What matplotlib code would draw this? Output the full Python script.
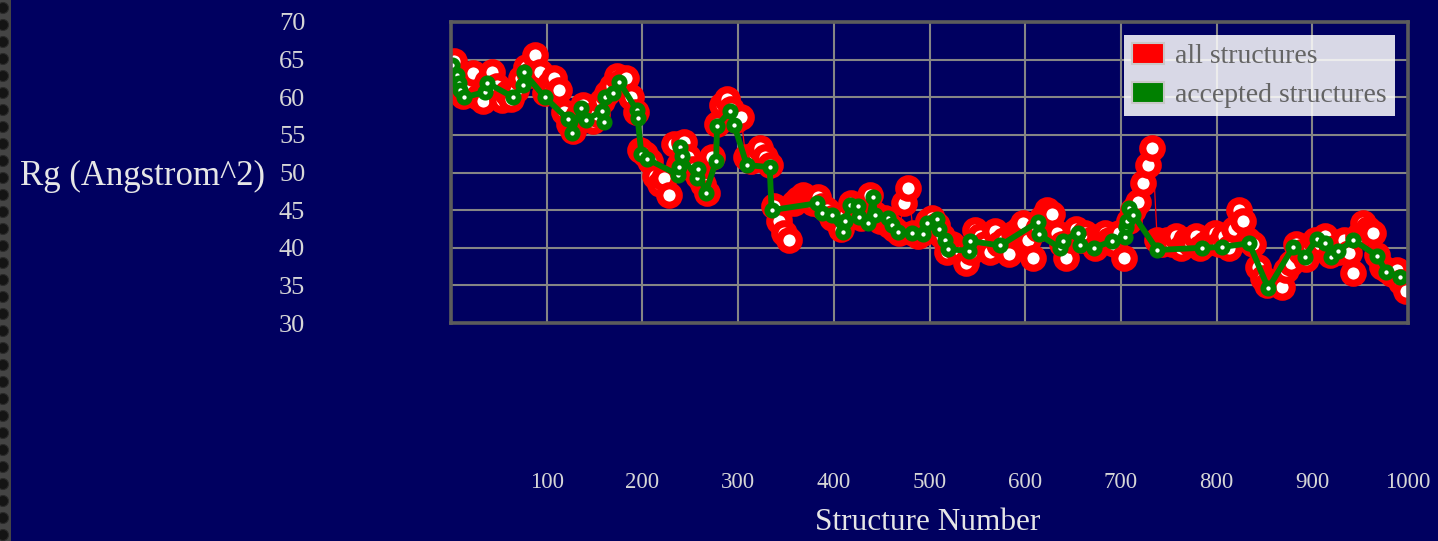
import numpy as np
import matplotlib
matplotlib.use("Agg")
import matplotlib.pyplot as plt
from matplotlib.patches import Patch, Rectangle, Circle

# ---------------- data ----------------
# all structures (sampled every 5 structure numbers, starting at 3)
red_x = np.arange(3, 1000, 5)
red_y = [
    64.8, 62.5, 60.2, 61.0, 63.2, 60.0, 59.5, 62.0, 63.4, 61.5,
    59.6, 60.5, 59.8, 61.0, 62.5, 64.0, 63.0, 65.6, 63.4, 60.5,
    61.8, 62.5, 61.0, 58.0, 56.5, 55.5, 57.5, 59.0, 57.5, 56.8,
    57.8, 59.5, 60.5, 61.5, 62.8, 62.0, 62.5, 60.0, 58.0, 53.0,
    52.5, 51.5, 49.5, 48.5, 49.3, 47.0, 53.8, 51.0, 54.0, 52.0,
    50.5, 49.5, 48.5, 47.3, 52.0, 56.5, 59.0, 59.8, 58.5, 57.0,
    57.4, 52.0, 51.5, 52.5, 53.2, 52.0, 51.0, 45.5, 43.5, 42.0,
    41.0, 46.0, 46.5, 47.0, 46.5, 46.0, 46.8, 45.5, 45.0, 44.0,
    43.5, 42.5, 44.5, 46.0, 45.2, 44.0, 45.5, 47.0, 44.5, 43.5,
    44.0, 43.0, 42.5, 42.0, 46.0, 48.0, 42.0, 41.5, 42.0, 43.5,
    44.0, 43.0, 41.5, 39.5, 40.5, 40.0, 39.5, 38.0, 39.5, 42.3,
    41.5, 40.5, 39.5, 42.2, 40.5, 41.0, 39.2, 42.0, 42.5, 43.3,
    41.0, 38.6, 42.5, 44.0, 45.0, 44.5, 42.0, 40.5, 38.6, 41.0,
    42.5, 41.0, 42.0, 41.0, 40.0, 41.5, 42.0, 41.0, 40.5, 42.0,
    38.6, 43.5, 45.0, 46.1, 48.6, 51.0, 53.2, 41.0, 40.5, 41.0,
    40.5, 41.5, 40.0, 41.0, 40.5, 41.5, 40.0, 40.5, 41.0, 42.0,
    40.5, 41.5, 40.0, 42.5, 45.0, 43.5, 41.0, 40.5, 37.5, 36.0,
    35.0, 35.5, 35.3, 34.8, 37.0, 38.0, 40.5, 39.5, 38.5, 40.0,
    41.0, 40.5, 41.5, 39.0, 40.0, 39.5, 41.0, 39.3, 36.6, 41.5,
    43.3, 42.5, 42.0, 39.0, 37.5, 37.0, 36.5, 37.0, 35.5, 34.3,
]

# accepted structures
green_x = [1, 6, 8, 9, 14, 36, 38, 65, 75, 76, 98, 122, 126, 136, 141,
           158, 160, 161, 169, 176, 194, 195, 199, 205, 237, 238, 239, 241,
           257, 258, 266, 277, 278, 292, 296, 309, 333, 335, 382, 388, 398,
           410, 412, 417, 425, 426, 436, 441, 443, 457, 461, 467, 482, 493,
           497, 508, 510, 516, 519, 541, 542, 574, 613, 614, 636, 639, 655,
           657, 672, 691, 704, 705, 706, 708, 713, 738, 785, 806, 834, 854,
           880, 892, 905, 913, 920, 927, 943, 968, 977, 992]
green_y = [64.3, 63.0, 61.9, 61.0, 60.0, 60.7, 61.9, 60.0, 61.6, 63.3, 60.0,
           57.1, 55.2, 58.6, 57.0, 58.2, 56.7, 60.0, 60.6, 62.0, 58.3, 57.2,
           52.4, 51.8, 49.7, 50.7, 53.4, 52.2, 49.3, 50.5, 47.3, 51.5, 56.2,
           58.2, 56.3, 51.0, 50.7, 45.0, 45.9, 44.6, 44.3, 42.1, 43.5, 45.7,
           45.5, 44.1, 43.3, 46.7, 44.3, 44.0, 43.0, 42.1, 42.0, 41.8, 43.3,
           43.8, 42.5, 41.0, 39.8, 39.6, 40.9, 40.3, 43.4, 41.8, 40.0, 40.9,
           42.0, 40.3, 40.0, 40.9, 41.4, 42.8, 43.6, 45.3, 44.4, 39.7, 40.0,
           40.1, 40.6, 34.6, 40.1, 38.8, 41.2, 40.6, 38.8, 39.6, 41.0, 38.9,
           36.8, 36.1]

x_ticks = [100, 200, 300, 400, 500, 600, 700, 800, 900, 1000]
y_ticks = [30, 35, 40, 45, 50, 55, 60, 65, 70]
legend_labels = ["all structures", "accepted structures"]

# ---------------- style ----------------
BG = "#000060"
GRID = "#858585"
FRAME = "#5c5c5c"
TXT = "#d6d6d6"
plt.rcParams["font.family"] = ["Liberation Serif", "DejaVu Serif"]

W, H = 1438, 541
fig = plt.figure(figsize=(W / 100, H / 100), dpi=100, facecolor=BG)
ax = fig.add_axes([451 / W, 1 - 323 / H, (1408 - 451) / W, (323 - 22) / H])
ax.set_facecolor(BG)

ax.plot(red_x, red_y, color="red", lw=0.9, marker="o", ms=14,
        mfc="white", mec="red", mew=5.2, zorder=3)
ax.plot(green_x, green_y, color="#008000", lw=4.2, marker="o", ms=7.4,
        mfc="white", mec="#008000", mew=4.2, zorder=4)

ax.set_xlim(0, 1000)
ax.set_ylim(30, 70)
ax.set_xticks(x_ticks)
ax.set_yticks(y_ticks)
ax.set_xticklabels([str(v) for v in x_ticks])
ax.set_yticklabels([str(v) for v in y_ticks])
ax.grid(True, color=GRID, lw=1.5, zorder=1)
ax.set_axisbelow(True)
ax.tick_params(axis="both", length=0, colors=TXT)
ax.tick_params(axis="y", pad=105, labelsize=19)
ax.tick_params(axis="x", pad=107, labelsize=16.5)
for sp in ax.spines.values():
    sp.set_color(FRAME)
    sp.set_linewidth(2.6)
    sp.set_zorder(5)

ax.set_ylabel("Rg (Angstrom^2)", rotation=0, ha="left", va="center",
              fontsize=25, color="#e6e6e6")
ax.yaxis.set_label_coords((20 - 451) / (1408 - 451), (541 - 176 - 218) / 301)
ax.set_xlabel("Structure Number", ha="center", va="center",
              fontsize=22.5, color="#e6e6e6")
ax.xaxis.set_label_coords((928 - 451) / (1408 - 451), (19 - 218) / 301)

handles = [Patch(facecolor="red", edgecolor="#c8c8c8", lw=1.5),
           Patch(facecolor="#008000", edgecolor="#c8c8c8", lw=1.5)]
leg = ax.legend(handles, legend_labels, loc="upper right",
                bbox_to_anchor=((1395 - 451) / 957, (541 - 35 - 218) / 301),
                borderaxespad=0, fontsize=20, frameon=True, fancybox=False,
                handlelength=1.15, handleheight=0.78, handletextpad=0.4,
                labelspacing=0.45, borderpad=0.3)
leg.get_frame().set_facecolor("white")
leg.get_frame().set_alpha(0.85)
leg.get_frame().set_edgecolor("none")
for t in leg.get_texts():
    t.set_color("#646464")
leg.set_zorder(6)

# decorative left strip
fig.add_artist(Rectangle((0, 0), 11 / W, 1, transform=fig.transFigure,
                         facecolor="#444444", edgecolor="none"))
for yy in range(8, H + 10, 17):
    fig.add_artist(Circle((3 / 100, (H - yy) / 100), 5.5 / 100,
                          transform=fig.dpi_scale_trans,
                          facecolor="#141414", edgecolor="#2a2a2a", lw=0.8))

fig.savefig("out.png", dpi=100, facecolor=BG)
